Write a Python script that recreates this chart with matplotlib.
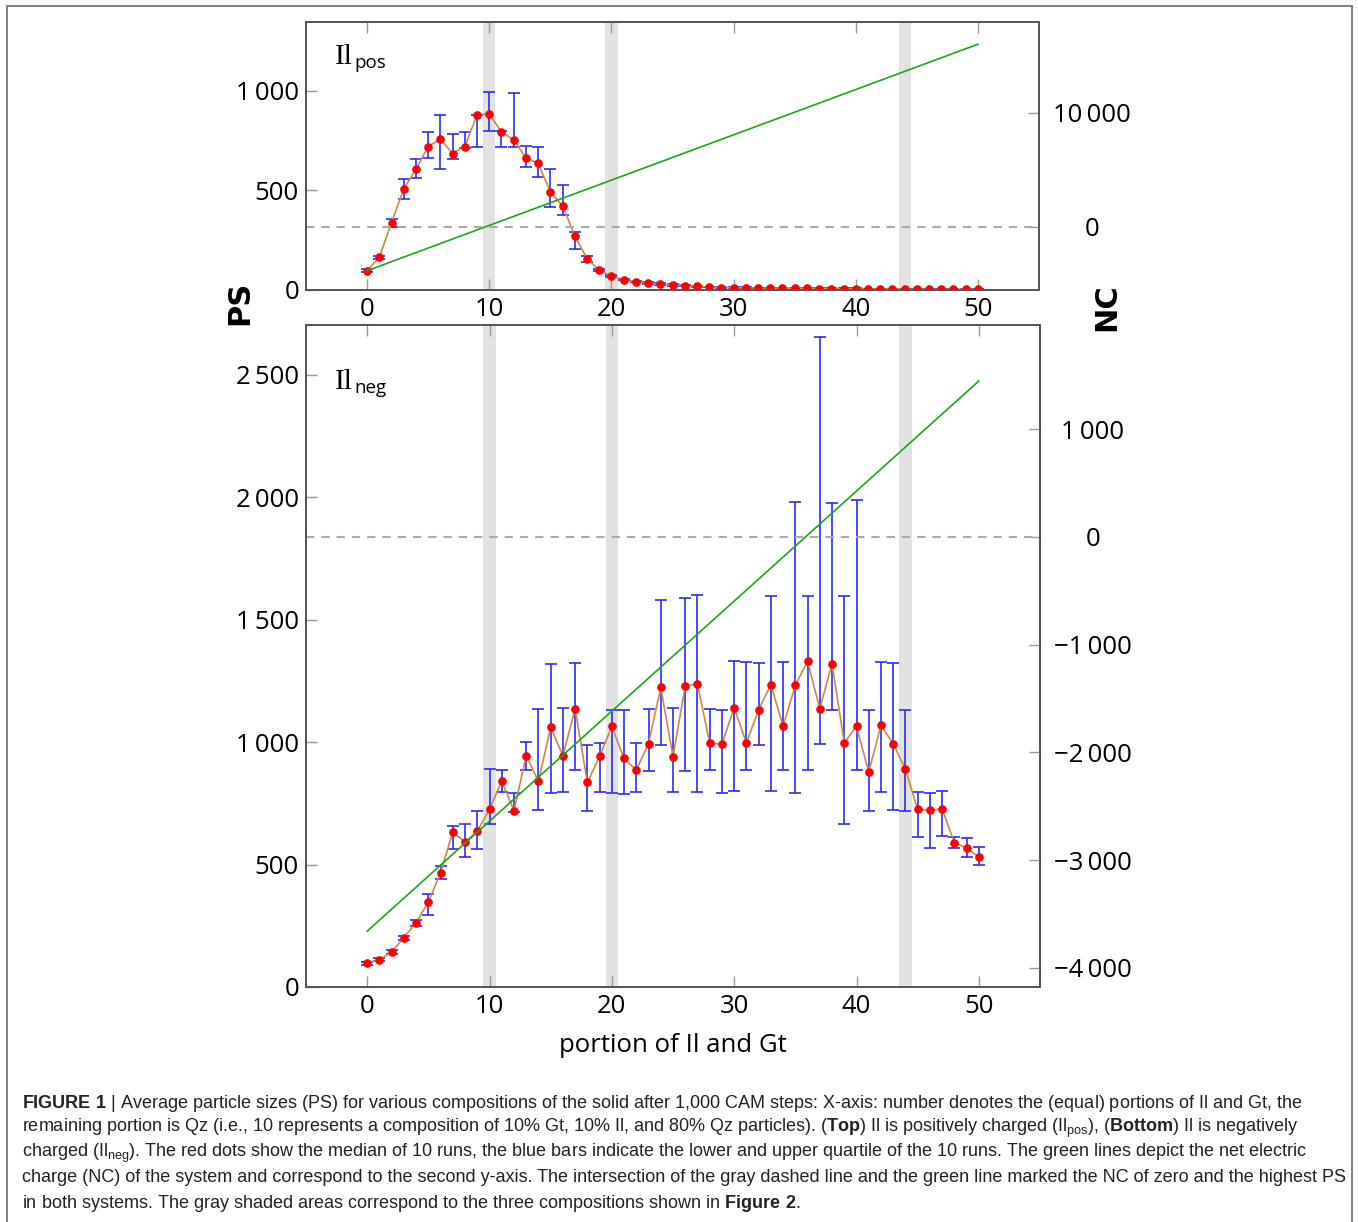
import matplotlib.pyplot as plt
import numpy as np
from matplotlib.patches import Rectangle

plt.rcParams["font.family"] = ["Open Sans", "DejaVu Sans"]
plt.rcParams["mathtext.fontset"] = "custom"
plt.rcParams["mathtext.rm"] = "Liberation Sans"
plt.rcParams["mathtext.bf"] = "Liberation Sans:bold"
plt.rcParams["lines.scale_dashes"] = False

# portion of Il and Gt
portion = list(range(51))

# top panel: Il positively charged
ps_pos = [97, 164, 338, 507, 605, 720, 757, 685, 720, 879,
          884, 792, 755, 663, 635, 494, 422, 273, 157, 100,
          69, 52, 42, 35, 29, 25, 22, 18, 15, 12,
          12, 11, 10, 9, 9, 8, 8, 7, 7, 6,
          6, 5, 5, 5, 4, 4, 4, 4, 3, 3, 3]
ps_pos_lo = [88, 155, 315, 456, 561, 660, 608, 657, 715, 717,
             797, 720, 720, 615, 566, 416, 378, 208, 141, 93,
             64, 48, 38, 31, 26, 22, 19, 15, 13, 10,
             10, 9, 8, 7, 7, 6, 6, 5, 5, 5,
             5, 4, 4, 4, 3, 3, 3, 3, 2, 2, 2]
ps_pos_hi = [106, 172, 358, 559, 655, 792, 876, 785, 792, 880,
             996, 800, 988, 722, 718, 605, 529, 291, 169, 106,
             74, 57, 47, 39, 33, 28, 25, 21, 17, 14,
             14, 13, 12, 11, 11, 10, 10, 9, 9, 8,
             8, 7, 7, 6, 6, 6, 6, 5, 5, 5, 5]
nc_portion = [0, 50]
nc_pos = [-3860, 16000]

# bottom panel: Il negatively charged
ps_neg = [98, 112, 143, 202, 263, 346, 467, 633, 591, 636,
          726, 840, 720, 944, 840, 1061, 944, 1136, 835, 942,
          1064, 933, 886, 993, 1223, 941, 1228, 1238, 996, 991,
          1141, 996, 1132, 1235, 1065, 1232, 1330, 1136, 1320, 997,
          1064, 878, 1068, 993, 889, 725, 722, 727, 590, 567, 531]
ps_neg_lo = [90, 105, 136, 192, 248, 294, 440, 563, 530, 565,
             666, 795, 715, 888, 723, 791, 798, 885, 719, 798,
             794, 790, 797, 882, 987, 797, 882, 798, 886, 793,
             799, 886, 990, 799, 885, 793, 888, 994, 1130, 666,
             884, 719, 798, 722, 719, 613, 567, 617, 569, 529, 500]
ps_neg_hi = [104, 118, 150, 210, 272, 380, 496, 658, 665, 720,
             889, 884, 793, 1000, 1136, 1318, 1140, 1323, 989, 997,
             1133, 1129, 997, 1134, 1580, 1138, 1587, 1600, 1137, 1133,
             1332, 1328, 1321, 1596, 1326, 1980, 1596, 2653, 1978, 1596,
             1987, 1130, 1329, 1324, 1129, 797, 794, 799, 613, 609, 572]
nc_neg = [-3660, 1446]

# compositions shown in Figure 2
shaded_portions = [10, 20, 44]

x_ticks = [0, 10, 20, 30, 40, 50]
x_tick_labels = ["0", "10", "20", "30", "40", "50"]
ps_ticks_top = [0, 500, 1000]
ps_labels_top = ["0", "500", "1\u2009000"]
nc_ticks_top = [0, 10000]
nc_labels_top = ["0", "10\u2009000"]
ps_ticks_bot = [0, 500, 1000, 1500, 2000, 2500]
ps_labels_bot = ["0", "500", "1\u2009000", "1\u2009500", "2\u2009000", "2\u2009500"]
nc_ticks_bot = [-4000, -3000, -2000, -1000, 0, 1000]
nc_labels_bot = ["\u22124\u2009000", "\u22123\u2009000", "\u22122\u2009000",
                 "\u22121\u2009000", "0", "1\u2009000"]

caption_lines = [
    r"$\mathbf{FIGURE\ 1}$ | Average particle sizes (PS) for various compositions of the solid after 1,000 CAM steps: X-axis: number denotes the (equal) portions of Il and Gt, the",
    r"remaining portion is Qz (i.e., 10 represents a composition of 10% Gt, 10% Il, and 80% Qz particles). ($\mathbf{Top}$) Il is positively charged (Il$_{\mathrm{pos}}$), ($\mathbf{Bottom}$) Il is negatively",
    r"charged (Il$_{\mathrm{neg}}$). The red dots show the median of 10 runs, the blue bars indicate the lower and upper quartile of the 10 runs. The green lines depict the net electric",
    r"charge (NC) of the system and correspond to the second y-axis. The intersection of the gray dashed line and the green line marked the NC of zero and the highest PS",
    r"in both systems. The gray shaded areas correspond to the three compositions shown in $\mathbf{Figure\ 2}$.",
]

W, H = 1358, 1222
SPINE = "#555555"
TICK = "#9a9a9a"


def draw_panel(ax, ps, lo, hi, nc, ps_lim, ps_ticks, ps_labels,
               nc_lim, nc_ticks, nc_labels, sub, label_y):
    ps = np.asarray(ps, dtype=float)
    yerr = [ps - np.asarray(lo), np.asarray(hi) - ps]

    for p in shaded_portions:
        ax.axvspan(p - 0.5, p + 0.5, color="#e2e2e2", lw=0, zorder=0)

    ax.errorbar(portion, ps, yerr=yerr, fmt="none", ecolor="#2b2bff",
                elinewidth=1.2, capsize=4.5, capthick=1.2, zorder=2)
    ax.plot(portion, ps, color="#c98a4b", lw=1.2, zorder=3)
    ax.plot(portion, ps, "o", color="#ff0000", ms=5.2, mec="#ff0000", zorder=4)

    ax.set_xlim(-5, 55)
    ax.set_ylim(*ps_lim)
    ax.set_xticks(x_ticks, x_tick_labels)
    ax.set_yticks(ps_ticks, ps_labels)
    ax.tick_params(direction="in", length=8, width=1, color=TICK,
                   labelsize=18.5, top=True, pad=5)

    ax2 = ax.twinx()
    ax2.plot(nc_portion, nc, color="#1fa51f", lw=1.2)
    ax2.axhline(0, color="#ababab", lw=1.5, dashes=(6, 5))
    ax2.set_ylim(*nc_lim)
    ax2.set_yticks(nc_ticks, nc_labels)
    ax2.tick_params(axis="y", direction="in", length=8, width=1, color=TICK,
                    labelsize=18.5, pad=38)
    for lab in ax2.get_yticklabels():
        lab.set_horizontalalignment("center")

    for a in (ax, ax2):
        for s in a.spines.values():
            s.set_color(SPINE)
            s.set_linewidth(1.3)

    t = ax.text(0.04, label_y, "Il", transform=ax.transAxes,
                fontsize=21, family="Liberation Serif", va="baseline")
    ax.annotate(sub, xy=(1, 0), xycoords=t, xytext=(0.5, 1.5),
                textcoords="offset points", fontsize=13.5, va="baseline")
    return ax2


fig = plt.figure(figsize=(W / 100, H / 100), dpi=100)

ax_top = fig.add_axes([306 / W, 1 - 290 / H, 733 / W, 268 / H])
ax_bot = fig.add_axes([306 / W, 1 - 987 / H, 734 / W, 662 / H])

draw_panel(ax_top, ps_pos, ps_pos_lo, ps_pos_hi, nc_pos, (0, 1345),
           ps_ticks_top, ps_labels_top, (-5550, 17950),
           nc_ticks_top, nc_labels_top, "pos", 0.843)
draw_panel(ax_bot, ps_neg, ps_neg_lo, ps_neg_hi, nc_neg, (0, 2703),
           ps_ticks_bot, ps_labels_bot, (-4178, 1966),
           nc_ticks_bot, nc_labels_bot, "neg", 0.903)

ax_bot.set_xlabel("portion of Il and Gt", fontsize=18.5, labelpad=10)

fig.text(240 / W, 1 - 303 / H, "PS", rotation=90, fontsize=22,
         family="DejaVu Sans", weight="bold", ha="center", va="center")
fig.text(1107 / W, 1 - 307 / H, "NC", rotation=90, fontsize=22,
         family="DejaVu Sans", weight="bold", ha="center", va="center")

caption_y = [1103, 1128, 1153, 1178, 1203]
for line, y in zip(caption_lines, caption_y):
    fig.text(22 / W, 1 - y / H, line, fontsize=13, family="Liberation Sans",
             color="#222222", ha="left", va="center")

fig.patches.append(Rectangle((7 / W, -0.01), 1345 / W, 1.01 - 6 / H,
                             transform=fig.transFigure, fill=False,
                             edgecolor="#777777", lw=1.3))

fig.savefig("out.png", dpi=100)
